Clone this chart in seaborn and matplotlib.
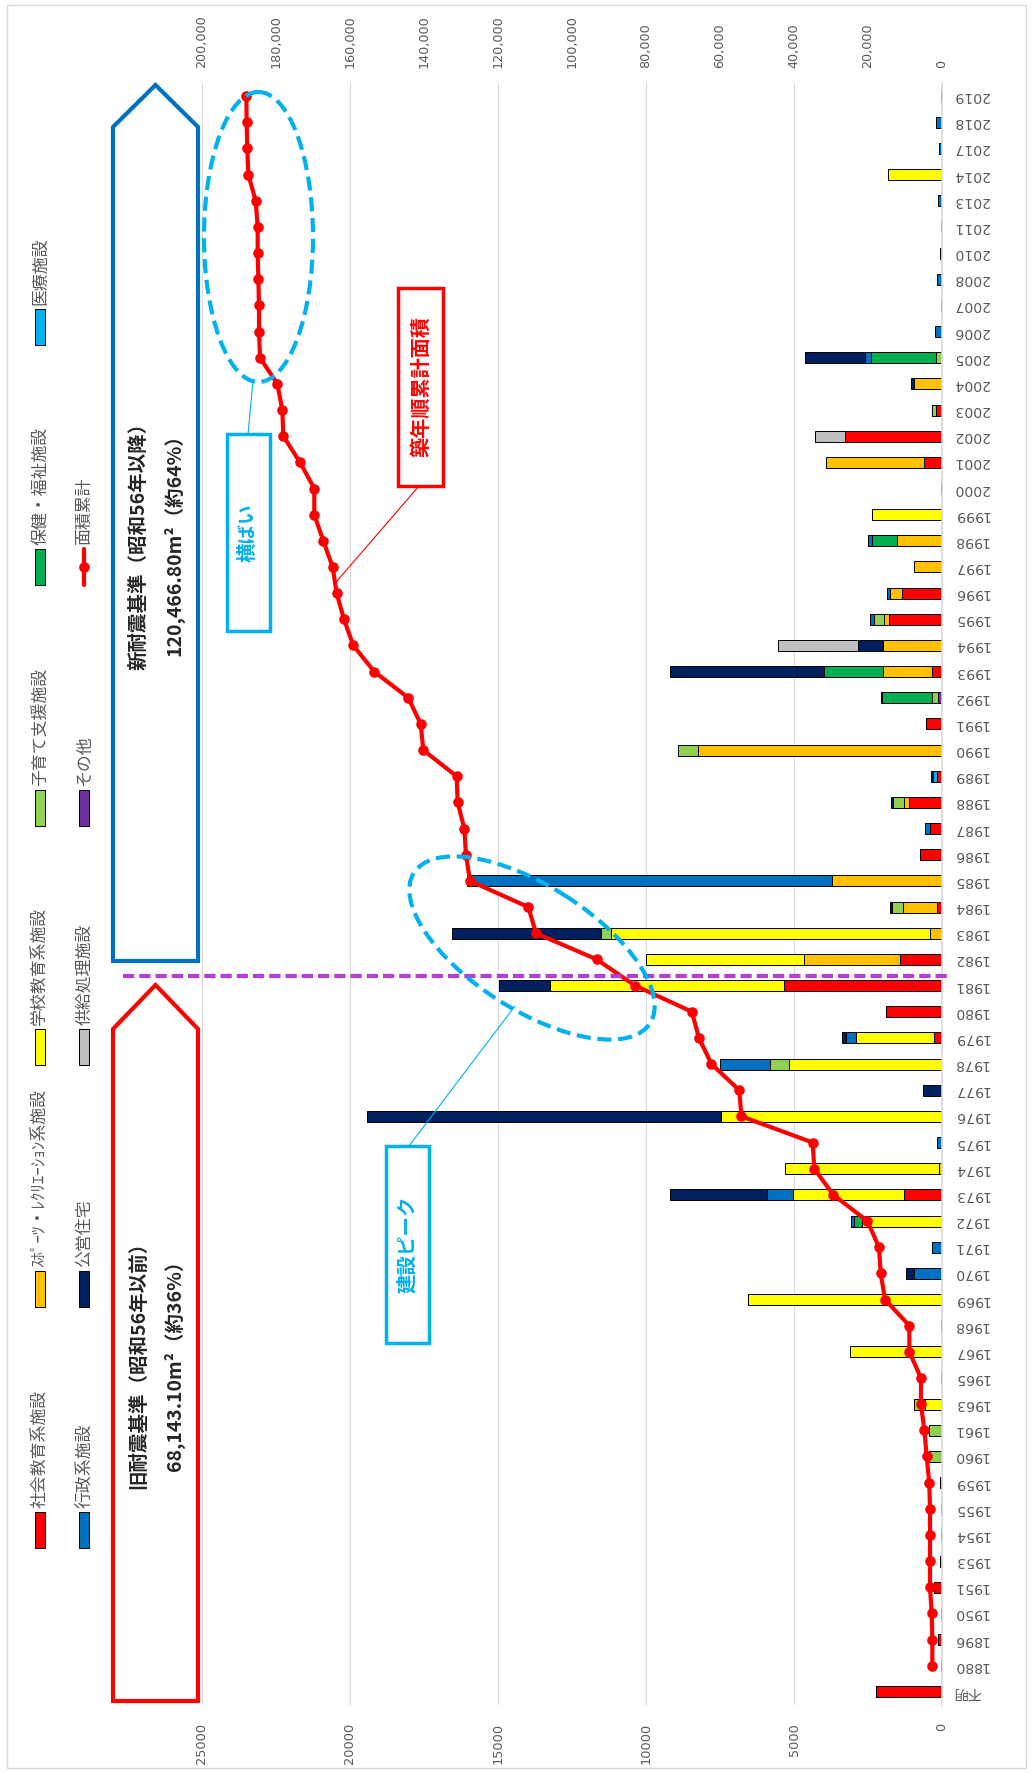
import numpy as np
import matplotlib
matplotlib.use("Agg")
import matplotlib.pyplot as plt
import matplotlib.transforms as mtransforms
from matplotlib.patches import Polygon, Rectangle, Ellipse
from matplotlib.lines import Line2D
from matplotlib.ticker import FuncFormatter
import seaborn as sns

W, H, DPI = 1032, 1773, 100

# ── data (m²) ──────────────────────────────────────────────
years = ["不明", "1880", "1896", "1950", "1951", "1953", "1954", "1955", "1959",
         "1960", "1961", "1963", "1965", "1967", "1968", "1969", "1970", "1971",
         "1972", "1973", "1974", "1975", "1976", "1977", "1978", "1979", "1980",
         "1981", "1982", "1983", "1984", "1985", "1986", "1987", "1988", "1989",
         "1990", "1991", "1992", "1993", "1994", "1995", "1996", "1997", "1998",
         "1999", "2000", "2001", "2002", "2003", "2004", "2005", "2006", "2007",
         "2008", "2010", "2011", "2013", "2014", "2017", "2018", "2019"]

shakai = {"不明": 2220, "1880": 40, "1896": 146, "1950": 30, "1951": 260, "1953": 55,
          "1954": 30, "1955": 30, "1959": 55, "1965": 40, "1968": 50, "1973": 1290,
          "1979": 280, "1980": 1880, "1981": 5350, "1982": 1415, "1984": 170,
          "1986": 730, "1987": 395, "1988": 1130, "1989": 170, "1991": 540,
          "1993": 340, "1995": 1800, "1996": 1350, "2000": 20, "2001": 620,
          "2002": 3280, "2003": 200, "2007": 20, "2011": 20, "2019": 20}
sports = {"1974": 100, "1982": 3250, "1983": 395, "1984": 1160, "1985": 3710,
          "1988": 170, "1990": 8230, "1993": 1660, "1994": 1990, "1995": 170,
          "1996": 395, "1997": 960, "1998": 1520, "2001": 3300, "2004": 960}
gakko = {"1963": 560, "1967": 3110, "1969": 6550, "1972": 2690, "1973": 3750,
         "1974": 5190, "1976": 7465, "1978": 5160, "1979": 2640, "1981": 7910,
         "1982": 5350, "1983": 10780, "1999": 2370, "2014": 1825}
kosodate = {"1960": 450, "1961": 450, "1963": 390, "1978": 650, "1983": 350,
            "1984": 370, "1988": 370, "1990": 690, "1992": 190, "1995": 340,
            "2003": 135, "2005": 190}
hoken = {"1972": 270, "1992": 1690, "1993": 1990, "1998": 845, "2005": 2220}
iryo = {"1989": 130}
gyosei = {"1970": 950, "1971": 330, "1972": 100, "1973": 880, "1975": 160,
          "1978": 1690, "1979": 340, "1985": 12335, "1987": 170, "1995": 110,
          "1996": 110, "1998": 135, "2005": 180, "2006": 225, "2008": 170,
          "2010": 80, "2013": 145, "2017": 110, "2018": 200}
koei = {"1970": 280, "1973": 3270, "1976": 11960, "1977": 630, "1979": 120,
        "1981": 1720, "1983": 5035, "1984": 60, "1988": 50, "1989": 60,
        "1992": 50, "1993": 5200, "1994": 845, "2004": 90, "2005": 2040}
kyokyu = {"1994": 2700, "2002": 1010}
sonota = {"1992": 145}

# cumulative floor area, 1880 .. 2019 (right axis)
cumulative = [2610, 2610, 2790, 3240, 3240, 3240, 3240, 3450, 4140, 4770,
              5680, 5680, 8830, 8830, 15410, 16570, 17030, 20180, 29370, 34520,
              34950, 54200, 54800, 62300, 65700, 67600, 82980, 93330, 109730, 111800,
              127570, 128650, 129100, 130900, 131170, 140190, 140900, 144250, 153440, 159100,
              161630, 163610, 164690, 167220, 169650, 169650, 173520, 178020, 178290, 179640,
              184320, 184590, 184590, 184770, 184950, 184950, 185490, 187490, 187760, 187940,
              188000]

SERIES = [
    ("その他",          sonota,   "#7030A0"),
    ("社会教育系施設",   shakai,   "#FF0000"),
    ("ｽﾎﾟｰﾂ・ﾚｸﾘｴｰｼｮﾝ系施設", sports, "#FFC000"),
    ("学校教育系施設",   gakko,    "#FFFF00"),
    ("子育て支援施設",   kosodate, "#92D050"),
    ("保健・福祉施設",   hoken,    "#00B050"),
    ("医療施設",         iryo,     "#00B0F0"),
    ("行政系施設",       gyosei,   "#0070C0"),
    ("公営住宅",         koei,     "#002060"),
    ("供給処理施設",     kyokyu,   "#BFBFBF"),
]
COLOR = {name: col for name, _, col in SERIES}

GREY = "#595959"
LIGHT = "#D9D9D9"
SKY = "#00B0F0"
JP = ["Noto Sans CJK JP", "DejaVu Sans"]

sns.set_theme(style="white")
plt.rcParams["font.family"] = ["DejaVu Sans", "Noto Sans CJK JP"]

fig = plt.figure(figsize=(W / DPI, H / DPI), dpi=DPI)
ax = fig.add_axes([202 / W, (H - 1705) / H, 740 / W, 1622 / H])

# ── stacked bars (left axis, grows to the left) ────────────
pos = np.arange(len(years))
left = np.zeros(len(years))
for name, data, col in SERIES:
    vals = np.array([data.get(y, 0) for y in years], dtype=float)
    m = vals > 0
    ax.barh(pos[m], vals[m], left=left[m], height=0.42, color=col,
            edgecolor="black", linewidth=0.7, zorder=2)
    left += vals

ax.set_xlim(25000, 0)
ax.set_ylim(-0.5, len(years) - 0.5)
ax.set_xticks(range(0, 25001, 5000))
ax.xaxis.grid(True, color=LIGHT, linewidth=0.8)
ax.yaxis.grid(False)
ax.set_axisbelow(True)
ax.yaxis.tick_right()
ax.set_yticks(pos)
ax.set_yticklabels(years, rotation=180, fontsize=10.2, color=GREY)
for lab in ax.get_yticklabels():
    lab.set_va("center")
ax.tick_params(axis="y", length=0, pad=8)
ax.tick_params(axis="x", length=0, pad=13, labelrotation=90,
               labelsize=9.3, labelcolor=GREY)
for s in ["left", "top", "bottom"]:
    ax.spines[s].set_visible(False)
ax.spines["right"].set_color(LIGHT)
ax.spines["right"].set_linewidth(1.2)

# ── cumulative line (right axis, drawn at the top) ─────────
ax2 = ax.twiny()
sns.lineplot(x=cumulative, y=pos[1:], ax=ax2, sort=False, estimator=None,
             color="#FF0000", linewidth=3, marker="o", markersize=7.6,
             markeredgewidth=0, legend=False, zorder=3)
ax2.set_xlim(200000, 0)
ax2.set_ylim(-0.5, len(years) - 0.5)
ax2.set_xticks(range(0, 200001, 20000))
ax2.xaxis.set_major_formatter(FuncFormatter(lambda v, p: f"{v:,.0f}"))
ax2.tick_params(axis="x", length=0, pad=11, labelrotation=90,
                labelsize=9.2, labelcolor=GREY)
ax2.grid(False)
ax2.set_xlabel("")
ax2.set_ylabel("")
ax.set_xlabel("")
ax.set_ylabel("")
for s in ax2.spines.values():
    s.set_visible(False)

# ── annotations, in image pixels (x right, y down) ─────────
px = mtransforms.Affine2D().scale(1 / DPI, -1 / DPI).translate(0, H / DPI) + fig.dpi_scale_trans

fig.add_artist(Rectangle((7, 5), 1019, 1763, transform=px, fill=False,
                         edgecolor=LIGHT, linewidth=1, zorder=0))

def pentagon(top, shoulder, bottom, col):
    pts = [(113, bottom), (113, shoulder), (155.5, top), (198, shoulder), (198, bottom)]
    fig.add_artist(Polygon(pts, closed=True, transform=px, facecolor="white",
                           edgecolor=col, linewidth=3, joinstyle="miter", zorder=5))

pentagon(85, 127, 961, "#0070C0")
pentagon(985, 1029, 1701, "#FF0000")

fig.text(139, 541, "新耐震基準（昭和56年以降）", transform=px, rotation=90,
         ha="center", va="center", fontsize=14, fontweight="bold", family=JP, zorder=6)
fig.text(174, 540, "120,466.80m²（約64%）", transform=px, rotation=90,
         ha="center", va="center", fontsize=14, fontweight="bold", family=JP, zorder=6)
fig.text(139, 1360, "旧耐震基準（昭和56年以前）", transform=px, rotation=90,
         ha="center", va="center", fontsize=14, fontweight="bold", family=JP, zorder=6)
fig.text(174, 1361, "68,143.10m²（約36%）", transform=px, rotation=90,
         ha="center", va="center", fontsize=14, fontweight="bold", family=JP, zorder=6)

fig.add_artist(Line2D([123, 950], [976, 976], transform=px, color="#B440D0",
                      linewidth=3, linestyle=(0, (2.7, 1.2)), zorder=5))

fig.add_artist(Ellipse((258.5, 237), 109, 290, transform=px, fill=False,
                       edgecolor=SKY, linewidth=3, linestyle=(0, (3.4, 1.6)), zorder=6))
fig.add_artist(Ellipse((532, 948), 280, 124, angle=32.5, transform=px, fill=False,
                       edgecolor=SKY, linewidth=3, linestyle=(0, (3.4, 1.6)), zorder=6))

def callout(x0, y0, x1, y1, text, col, size, link):
    fig.add_artist(Line2D([link[0], link[2]], [link[1], link[3]], transform=px,
                          color=col, linewidth=0.8, zorder=5))
    fig.add_artist(Rectangle((x0, y0), x1 - x0, y1 - y0, transform=px,
                             facecolor="white", edgecolor=col, linewidth=2.5, zorder=5))
    fig.text((x0 + x1) / 2, (y0 + y1) / 2, text, transform=px, rotation=90,
             ha="center", va="center", fontsize=size, fontweight="bold",
             color=col, family=JP, zorder=6)

callout(227, 434, 270, 631, "横ばい", SKY, 14, (248, 434, 253, 381))
callout(386, 1146, 429, 1343, "建設ピーク", SKY, 14, (409, 1146, 515, 1006))
callout(398, 288, 443, 486, "築年順累計面積", "#FF0000", 14.5, (419, 486, 337, 581))

# ── legend (two columns, rotated) ──────────────────────────
legend_rows = [
    (40, 1530, "社会教育系施設"), (40, 1289, "ｽﾎﾟｰﾂ・ﾚｸﾘｴｰｼｮﾝ系施設"),
    (40, 1047, "学校教育系施設"), (40, 808, "子育て支援施設"),
    (40, 567, "保健・福祉施設"), (40, 327, "医療施設"),
    (84, 1530, "行政系施設"), (84, 1289, "公営住宅"),
    (84, 1047, "供給処理施設"), (84, 808, "その他"),
]
for x, y, name in legend_rows:
    fig.add_artist(Rectangle((x - 5, y - 18), 10, 36, transform=px,
                             facecolor=COLOR[name], edgecolor="black",
                             linewidth=0.7, zorder=5))
    fig.text(x, y - 22, name, transform=px, rotation=90, ha="center", va="bottom",
             fontsize=12.2, color=GREY, family=JP, zorder=6)

fig.add_artist(Line2D([84, 84], [549, 585], transform=px, color="#FF0000",
                      linewidth=3, zorder=5))
fig.add_artist(Line2D([84], [567], transform=px, color="#FF0000", marker="o",
                      markersize=7.6, markeredgewidth=0, zorder=5))
fig.text(84, 545, "面積累計", transform=px, rotation=90, ha="center", va="bottom",
         fontsize=12.2, color=GREY, family=JP, zorder=6)

fig.savefig("out.png", dpi=DPI)
plt.close(fig)
